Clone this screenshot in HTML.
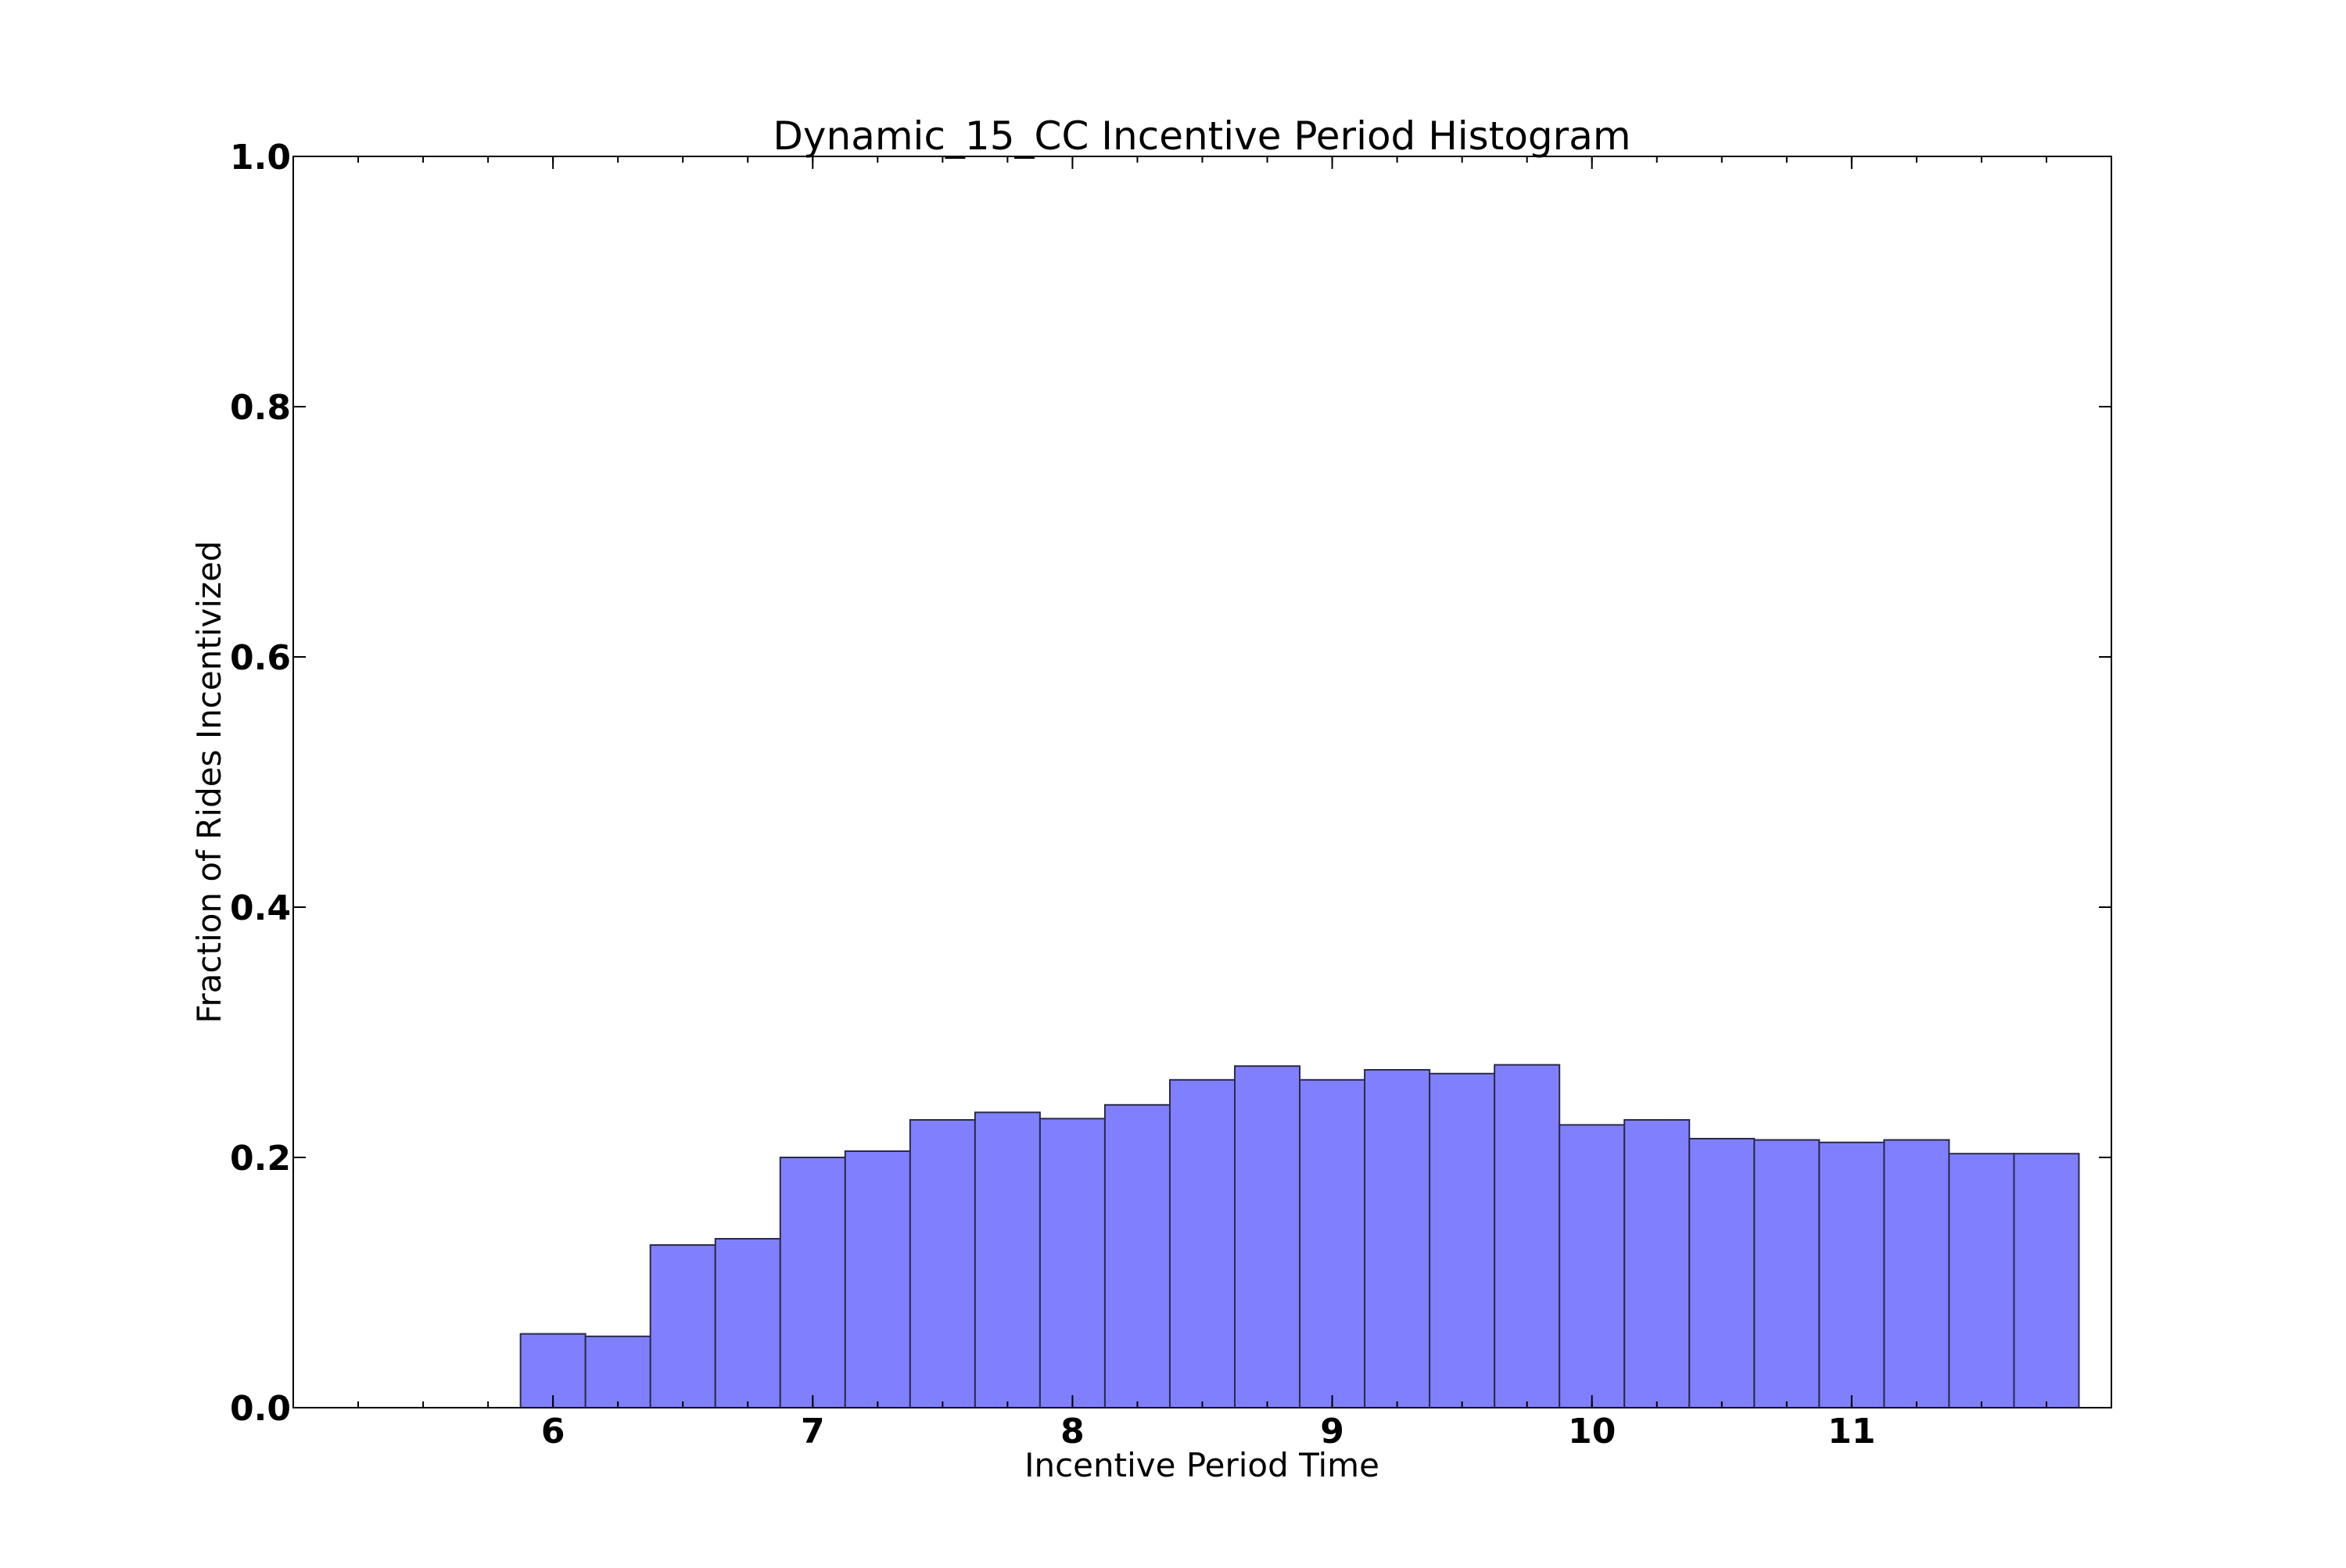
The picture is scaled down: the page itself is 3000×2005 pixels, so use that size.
<!DOCTYPE html>
<html><head><meta charset="utf-8"><style>
html,body{margin:0;padding:0;background:#fff;}
svg text{font-family:"DejaVu Sans","Liberation Sans",sans-serif;}
</style></head><body>
<svg id="chart" width="3000" height="2000" xmlns="http://www.w3.org/2000/svg">
<rect width="3000" height="2000" fill="#fff"/>
<g id="bars"></g>
<g id="ticks"></g>
<rect x="375" y="200" width="2325" height="1600" fill="none" stroke="#000" stroke-width="2"/>
<text x="1537" y="191" font-size="50" text-anchor="middle">Dynamic_15_CC Incentive Period Histogram</text>
<text x="1537" y="1888" font-size="42" text-anchor="middle">Incentive Period Time</text>
<text x="0" y="0" font-size="42" text-anchor="middle" transform="translate(282,1000) rotate(-90)">Fraction of Rides Incentivized</text>
</svg>
<script>
const binStarts=[5.875,6.125,6.375,6.625,6.875,7.125,7.375,7.625,7.875,8.125,8.375,8.625,8.875,9.125,9.375,9.625,9.875,10.125,10.375,10.625,10.875,11.125,11.375,11.625];
const binValues=[0.059,0.057,0.130,0.135,0.200,0.205,0.230,0.236,0.231,0.242,0.262,0.273,0.262,0.270,0.267,0.274,0.226,0.230,0.215,0.214,0.212,0.214,0.203,0.203];
const binWidth=0.25;
const xTicks=[6,7,8,9,10,11];
const yTicks=[0.0,0.2,0.4,0.6,0.8,1.0];
const yTickLabels=["0.0","0.2","0.4","0.6","0.8","1.0"];
const L=375,R=2700,T=200,B=1800,X0=5,X1=12;
const xs=v=>L+(v-X0)/(X1-X0)*(R-L);
const ys=v=>B-v*(B-T);
const NS="http://www.w3.org/2000/svg";
const bars=document.getElementById('bars'),tk=document.getElementById('ticks');
function mk(tag,a,p){const e=document.createElementNS(NS,tag);for(const k in a)e.setAttribute(k,a[k]);p.appendChild(e);return e;}
binStarts.forEach((s,i)=>{
 const x=xs(s),w=xs(s+binWidth)-x,y=ys(binValues[i]);
 const r=mk('rect',{x:x,y:y,width:w,height:B-y,fill:'#8080ff',stroke:'#2a2a4a','stroke-width':2},bars);
 
 
});
for(let v=5.25;v<12;v+=0.25){
 const x=xs(v);
 mk('line',{x1:x,x2:x,y1:B,y2:B-8,stroke:'#000','stroke-width':2},tk);
 mk('line',{x1:x,x2:x,y1:T,y2:T+8,stroke:'#000','stroke-width':2},tk);
}
xTicks.forEach(v=>{
 const x=xs(v);
 mk('line',{x1:x,x2:x,y1:B,y2:B-16,stroke:'#000','stroke-width':2},tk);
 mk('line',{x1:x,x2:x,y1:T,y2:T+16,stroke:'#000','stroke-width':2},tk);
 const t=mk('text',{x:x,y:B+45,'font-size':44,'font-weight':'bold','text-anchor':'middle'},tk);
 t.textContent=v;
 
 
});
yTicks.forEach((v,i)=>{
 const y=ys(v);
 mk('line',{x1:L,x2:L+16,y1:y,y2:y,stroke:'#000','stroke-width':2},tk);
 mk('line',{x1:R,x2:R-16,y1:y,y2:y,stroke:'#000','stroke-width':2},tk);
 const t=mk('text',{x:L-3,y:y+16,'font-size':44,'font-weight':'bold','text-anchor':'end'},tk);
 t.textContent=yTickLabels[i];
 
 
});
</script>
</body></html>
